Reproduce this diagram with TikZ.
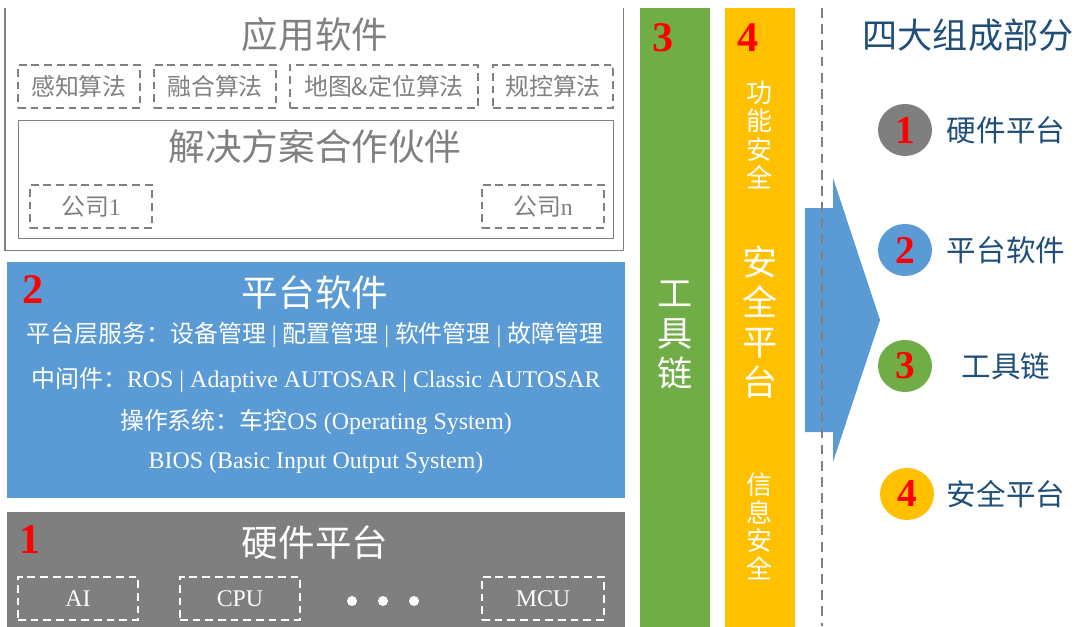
\documentclass[tikz,border=0pt]{standalone}
\usepackage{fontspec}
\setmainfont{Liberation Serif}
\newfontfamily\cjk{Noto Sans CJK SC}
\usetikzlibrary{shapes,positioning,calc}
\usepackage{xcolor}

\definecolor{hwgray}{HTML}{7F7F7F}
\definecolor{txtgray}{HTML}{808080}
\definecolor{swblue}{HTML}{5B9BD5}
\definecolor{toolgreen}{HTML}{70AD47}
\definecolor{safeorange}{HTML}{FFC000}
\definecolor{navy}{HTML}{1F4E79}

\newdimen\upx \upx=0.025cm

\begin{document}
\begin{tikzpicture}[x=0.025cm, y=-0.025cm]
      \tikzstyle{layer}=[anchor=north west, inner sep=0, minimum width=618\upx];
      \tikzstyle{bar}=[anchor=north west, inner sep=0, minimum width=70\upx, minimum height=620\upx];
      \tikzstyle{title}=[font=\cjk\fontsize{26}{26}\selectfont];
      \tikzstyle{dbox}=[draw=txtgray, line width=1.3pt, dash pattern=on 5.5pt off 3.5pt, minimum height=43\upx, minimum width=122\upx, inner sep=0, text=txtgray, font=\cjk\fontsize{17}{17}\selectfont];
      \tikzstyle{wbox}=[draw=white, line width=1.3pt, dash pattern=on 5.5pt off 3.5pt, minimum height=43\upx, minimum width=122\upx, inner sep=0, text=white, font=\fontsize{17}{17}\selectfont];
      \tikzstyle{swline}=[text=white, inner sep=0, font=\fontsize{17}{17}\selectfont];
      \tikzstyle{num}=[text=red, inner sep=0, font=\bfseries\fontsize{30}{30}\selectfont];
      \tikzstyle{vtext}=[text=white, align=center, inner sep=0];
      \tikzstyle{badge}=[ellipse, minimum width=54\upx, minimum height=52\upx, inner sep=0, text=red, font=\bfseries\fontsize{28}{28}\selectfont];
      \tikzstyle{part}=[text=navy, font=\cjk\fontsize{21}{21}\selectfont];

      \useasboundingbox (0,0) rectangle (1080,626);

      \node (app) at (5,8)[anchor=north west, minimum width=618\upx, minimum height=242\upx, inner sep=0]{};
      \draw [txtgray, line width=1pt] (app.north west) -- (app.south west) -- (app.south east) -- (app.north east);
      \node (apptitle) at (315,35)[title, text=txtgray]{应用软件};
      \node (alg1) at (79,86.5)[dbox]{感知算法};
      \node (alg2) at (215,86.5)[dbox]{融合算法};
      \node (alg3) at (384,86.5)[dbox, minimum width=188\upx]{地图\&定位算法};
      \node (alg4) at (553,86.5)[dbox, minimum width=120\upx]{规控算法};
      \node (partner) at (18,120)[anchor=north west, draw=txtgray, line width=1pt, minimum width=595\upx, minimum height=118\upx, inner sep=0]{};
      \node (ptitle) at (315,147)[title, text=txtgray]{解决方案合作伙伴};
      \node (co1) at (91,206.5)[dbox]{公司{\rmfamily 1}};
      \node (con) at (543,206.5)[dbox]{公司{\rmfamily n}};

      \node (sw) at (7,262)[layer, fill=swblue, minimum height=236\upx]{};
      \node (n2) at (33,290)[num]{2};
      \node (swtitle) at (315,293)[title, text=white]{平台软件};
      \node (sw1) at (315,335)[swline]{{\cjk 平台层服务：设备管理} | {\cjk 配置管理} | {\cjk 软件管理} | {\cjk 故障管理}};
      \node (sw2) at (316,380)[swline]{{\cjk 中间件：}ROS | Adaptive AUTOSAR | Classic AUTOSAR};
      \node (sw3) at (316,422)[swline]{{\cjk 操作系统：车控}OS (Operating System)};
      \node (sw4) at (316,463)[swline]{BIOS (Basic Input Output System)};

      \node (hw) at (7,512)[layer, fill=hwgray, minimum height=120\upx]{};
      \node (n1) at (30,540)[num]{1};
      \node (hwtitle) at (315,543)[title, text=white]{硬件平台};
      \node (ai) at (78,598.5)[wbox, minimum width=120\upx]{AI};
      \node (cpu) at (240,598.5)[wbox, minimum width=120\upx]{CPU};
      \node (dot1) at (352,601)[circle, fill=white, minimum size=10\upx, inner sep=0]{};
      \node (dot2) at (383,601)[circle, fill=white, minimum size=10\upx, inner sep=0]{};
      \node (dot3) at (414,601)[circle, fill=white, minimum size=10\upx, inner sep=0]{};
      \node (mcu) at (543,598.5)[wbox]{MCU};

      \node (tool) at (640,8)[bar, fill=toolgreen]{};
      \node (n3) at (663,38)[num]{3};
      \node (tooltxt) at (675,335)[vtext, font=\cjk\fontsize{25}{28.5}\selectfont]{工\\具\\链};

      \node (safe) at (725,8)[bar, fill=safeorange]{};
      \node (n4) at (748,38)[num]{4};
      \node (fsafe) at (760,135)[vtext, font=\cjk\fontsize{18.5}{20}\selectfont]{功\\能\\安\\全};
      \node (safetxt) at (760,322)[vtext, font=\cjk\fontsize{25}{28.5}\selectfont]{安\\全\\平\\台};
      \node (isafe) at (760,526)[vtext, font=\cjk\fontsize{18.5}{20}\selectfont]{信\\息\\安\\全};

      \fill [swblue] (805,208) -- (833,208) -- (833,178) -- (880,320) -- (833,462) -- (833,432) -- (805,432) -- cycle;

      \coordinate (sepT) at (822,8);
      \coordinate (sepB) at (822,626);
      \draw [txtgray, line width=1.8pt, dash pattern=on 7pt off 4.5pt] (sepT) -- (sepB);

      \node (legend) at (968,35)[text=navy, font=\cjk\fontsize{25}{25}\selectfont]{四大组成部分};
      \node (b1) at (905,130)[badge, fill=hwgray]{1};
      \node (l1) at (1006,130)[part]{硬件平台};
      \node (b2) at (905,250)[badge, fill=swblue]{2};
      \node (l2) at (1006,250)[part]{平台软件};
      \node (b3) at (905,366)[badge, fill=toolgreen]{3};
      \node (l3) at (1006,366)[part]{工具链};
      \node (b4) at (907,494)[badge, fill=safeorange]{4};
      \node (l4) at (1006,494)[part]{安全平台};

    \end{tikzpicture}
\end{document}
